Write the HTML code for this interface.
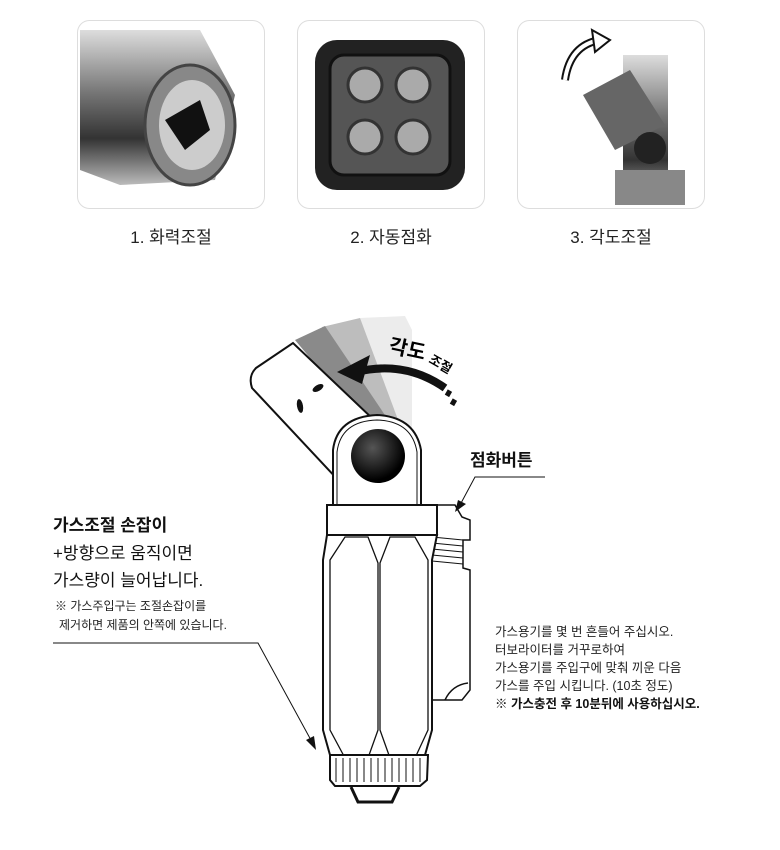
<!DOCTYPE html>
<html><head><meta charset="utf-8"><style>
body{margin:0;width:780px;height:845px;background:#fff;overflow:hidden;font-family:"Liberation Sans","Noto Sans CJK KR",sans-serif;}
</style></head><body>
<svg width="780" height="845" viewBox="0 0 780 845" xmlns="http://www.w3.org/2000/svg" font-family="Liberation Sans, Noto Sans CJK KR, sans-serif">
<defs>
<linearGradient id="m" x1="0" y1="0" x2="0" y2="1"><stop offset="0" stop-color="#ddd"/><stop offset=".4" stop-color="#777"/><stop offset=".7" stop-color="#333"/><stop offset="1" stop-color="#bbb"/></linearGradient>
<radialGradient id="b" cx=".4" cy=".35" r=".6"><stop offset="0" stop-color="#555"/><stop offset="1" stop-color="#000"/></radialGradient>
</defs>
<rect x="77.5" y="20.5" width="187" height="188" rx="12" fill="#fff" stroke="#ddd"/>
<rect x="297.5" y="20.5" width="187" height="188" rx="12" fill="#fff" stroke="#ddd"/>
<rect x="517.5" y="20.5" width="187" height="188" rx="12" fill="#fff" stroke="#ddd"/>
<path d="M80 30 L200 30 L235 95 L215 180 L120 185 L80 170 Z" fill="url(#m)"/>
<ellipse cx="190" cy="125" rx="45" ry="60" fill="#888" stroke="#444" stroke-width="3"/>
<ellipse cx="192" cy="125" rx="33" ry="45" fill="#ccc"/>
<path d="M165 120 L200 100 L210 130 L185 150 Z" fill="#111"/>
<rect x="315" y="40" width="150" height="150" rx="22" fill="#222"/>
<rect x="330" y="55" width="120" height="120" rx="14" fill="#555" stroke="#111" stroke-width="3"/>
<circle cx="365" cy="85" r="17" fill="#aaa" stroke="#333" stroke-width="3"/>
<circle cx="413" cy="85" r="17" fill="#aaa" stroke="#333" stroke-width="3"/>
<circle cx="365" cy="137" r="17" fill="#aaa" stroke="#333" stroke-width="3"/>
<circle cx="413" cy="137" r="17" fill="#aaa" stroke="#333" stroke-width="3"/>
<rect x="623" y="55" width="45" height="150" fill="url(#m)"/>
<path d="M583 95 L630 70 L665 125 L615 150 Z" fill="#666"/>
<circle cx="650" cy="148" r="16" fill="#222"/>
<rect x="615" y="170" width="70" height="35" fill="#888"/>
<path d="M565 80 Q570 45 600 40" fill="none" stroke="#111" stroke-width="8"/>
<path d="M565 80 Q570 45 600 40" fill="none" stroke="#fff" stroke-width="4"/>
<path d="M592 30 L610 40 L595 52 Z" fill="#fff" stroke="#111" stroke-width="2"/>
<g font-size="17" fill="#222" text-anchor="middle">
<text x="171" y="243">1. 화력조절</text><text x="391" y="243">2. 자동점화</text><text x="611" y="243">3. 각도조절</text>
</g>
<!-- fan -->
<path d="M360 318 L405 316 L412 330 L412 440 L390 445 Z" fill="#ececec"/>
<path d="M322 327 L360 318 L400 425 L388 445 Z" fill="#bdbdbd"/>
<path d="M295 340 L325 326 L395 430 L385 448 Z" fill="#8a8a8a"/>
<!-- head -->
<path d="M256 368 L293 343 L395 440 L340 482 L252 388 Q248 376 256 368 Z" fill="#fff" stroke="#111" stroke-width="2"/>
<ellipse cx="318" cy="388" rx="3" ry="6" transform="rotate(60 318 388)" fill="#111"/>
<ellipse cx="300" cy="406" rx="3" ry="7" transform="rotate(-10 300 406)" fill="#111"/>
<!-- arrow -->
<path d="M356 372 Q405 360 445 388" fill="none" stroke="#111" stroke-width="8"/>
<path d="M337 372 L370 355 L362 384 Z" fill="#111"/>
<rect x="446" y="390" width="5" height="6" fill="#111" transform="rotate(30 448 393)"/>
<rect x="451" y="399" width="5" height="6" fill="#111" transform="rotate(30 453 402)"/>
<text x="388" y="352" font-size="20" font-weight="bold" transform="rotate(12 388 352)">각도</text>
<text x="428" y="362" font-size="13" font-weight="bold" transform="rotate(30 428 362)">조절</text>
<path d="M333 505 L333 450 Q337 417 377 415 Q415 417 421 450 L421 505 Z" fill="#fff" stroke="#111" stroke-width="2"/>
<path d="M337 505 L337 452 Q341 421 377 420 Q412 421 417 452 L417 505" fill="none" stroke="#111" stroke-width="1"/>
<circle cx="378" cy="456" r="27" fill="url(#b)"/>
<path d="M430 505 L455 505 L462 517 L470 520 L470 540 L463 540 L463 568 L470 570 L470 690 L462 700 L430 700 Z" fill="#fff" stroke="#111" stroke-width="1.5"/>
<g stroke="#111" stroke-width="1"><line x1="432" y1="537" x2="463" y2="540"/><line x1="432" y1="543" x2="463" y2="546"/><line x1="432" y1="549" x2="463" y2="552"/><line x1="432" y1="555" x2="463" y2="558"/><line x1="432" y1="561" x2="463" y2="564"/></g>
<path d="M445 700 Q452 685 468 683" fill="none" stroke="#111" stroke-width="1.5"/>
<rect x="327" y="505" width="110" height="30" fill="#fff" stroke="#111" stroke-width="2"/>
<path d="M327 535 L437 535 L432 560 L432 730 L425 755 L330 755 L323 730 L323 560 Z" fill="#fff" stroke="#111" stroke-width="2"/>
<path d="M330 560 L345 537 L368 537 L378 563 L378 730 L368 758 L345 758 L330 730 Z" fill="none" stroke="#111" stroke-width="1.3"/>
<path d="M380 563 L390 537 L415 537 L428 560 L428 730 L415 758 L390 758 L380 730 Z" fill="none" stroke="#111" stroke-width="1.3"/>
<path d="M330 755 L428 755 L427 780 L420 786 L335 786 L330 780 Z" fill="#fff" stroke="#111" stroke-width="2"/>
<g stroke="#111" stroke-width="1"><line x1="336" y1="758" x2="336" y2="782"/><line x1="343" y1="758" x2="343" y2="782"/><line x1="350" y1="758" x2="350" y2="782"/><line x1="357" y1="758" x2="357" y2="782"/><line x1="364" y1="758" x2="364" y2="782"/><line x1="371" y1="758" x2="371" y2="782"/><line x1="378" y1="758" x2="378" y2="782"/><line x1="385" y1="758" x2="385" y2="782"/><line x1="392" y1="758" x2="392" y2="782"/><line x1="399" y1="758" x2="399" y2="782"/><line x1="406" y1="758" x2="406" y2="782"/><line x1="413" y1="758" x2="413" y2="782"/><line x1="420" y1="758" x2="420" y2="782"/></g>
<path d="M351 787 L358 802 L392 802 L399 787" fill="none" stroke="#111" stroke-width="3"/>
<text x="470" y="466" font-size="17" font-weight="bold" fill="#111">점화버튼</text>
<polyline points="545,477 475,477 460,505" fill="none" stroke="#111" stroke-width="1"/>
<path d="M455 512 L458 500 L466 504 Z" fill="#111"/>
<g fill="#111" font-size="17">
<text x="53" y="531" font-weight="bold">가스조절 손잡이</text>
<text x="53" y="559">+방향으로 움직이면</text>
<text x="53" y="586">가스량이 늘어납니다.</text>
</g>
<g fill="#222" font-size="12">
<text x="55" y="610">※ 가스주입구는 조절손잡이를</text>
<text x="59" y="629">제거하면 제품의 안쪽에 있습니다.</text>
</g>
<polyline points="53,643 258,643 312,742" fill="none" stroke="#111" stroke-width="1"/>
<path d="M316 750 L306 740 L314 736 Z" fill="#111"/>
<g fill="#222" font-size="12.5">
<text x="495" y="636">가스용기를 몇 번 흔들어 주십시오.</text>
<text x="495" y="654">터보라이터를 거꾸로하여</text>
<text x="495" y="672">가스용기를 주입구에 맞춰 끼운 다음</text>
<text x="495" y="690">가스를 주입 시킵니다. (10초 정도)</text>
<text x="495" y="708" font-weight="bold" fill="#111">※ 가스충전 후 10분뒤에 사용하십시오.</text>
</g>
</svg>
</body></html>
